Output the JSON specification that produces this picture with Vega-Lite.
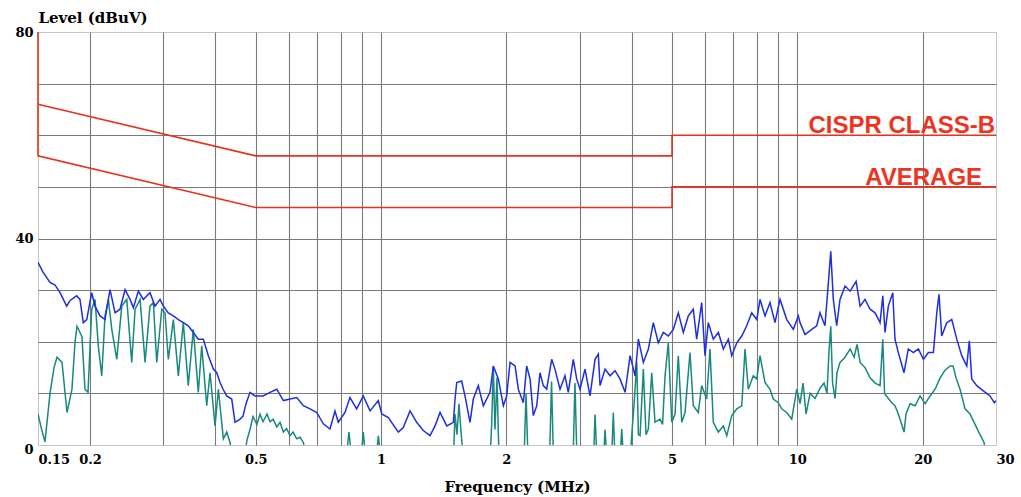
{
"$schema": "https://vega.github.io/schema/vega-lite/v6.json",
"width": 958, "height": 413,
"autosize": {"type": "none"},
"padding": {"left": 38, "top": 32, "right": 25, "bottom": 52},
"background": "white",
"config": {"view": {"stroke": "#c4c4c4", "strokeWidth": 1}, "font": "DejaVu Serif"},
"datasets": {
"peak": [
{"f":0.15,"v":35.4},{"f":0.1542,"v":33.5},{"f":0.1603,"v":31.5},{"f":0.1648,"v":31.0},{"f":0.1694,"v":29.5},{"f":0.1758,"v":26.9},{"f":0.1791,"v":28.0},{"f":0.1858,"v":28.9},{"f":0.1892,"v":28.2},{"f":0.1927,"v":23.7},{"f":0.1964,"v":24.3},{"f":0.2019,"v":29.5},{"f":0.2056,"v":26.9},{"f":0.2114,"v":25.0},{"f":0.2173,"v":24.3},{"f":0.2234,"v":30.1},{"f":0.2297,"v":25.6},{"f":0.2361,"v":26.3},{"f":0.2428,"v":30.1},{"f":0.2496,"v":28.2},{"f":0.2542,"v":26.6},{"f":0.2613,"v":29.8},{"f":0.2686,"v":28.2},{"f":0.2787,"v":29.5},{"f":0.2865,"v":26.9},{"f":0.2946,"v":28.2},{"f":0.3,"v":26.9},{"f":0.3084,"v":25.6},{"f":0.3171,"v":25.0},{"f":0.326,"v":24.3},{"f":0.335,"v":23.7},{"f":0.3444,"v":23.1},{"f":0.3541,"v":21.8},{"f":0.364,"v":20.5},{"f":0.3743,"v":20.5},{"f":0.3848,"v":17.3},{"f":0.3956,"v":14.7},{"f":0.4031,"v":14.0},{"f":0.4105,"v":12.1},{"f":0.4174,"v":10.8},{"f":0.426,"v":9.5},{"f":0.438,"v":8.9},{"f":0.446,"v":4.4},{"f":0.4586,"v":5.0},{"f":0.4662,"v":5.6},{"f":0.4739,"v":8.0},{"f":0.4845,"v":10.2},{"f":0.498,"v":9.5},{"f":0.5206,"v":9.5},{"f":0.5412,"v":10.2},{"f":0.5618,"v":10.8},{"f":0.5827,"v":8.6},{"f":0.6047,"v":8.9},{"f":0.6275,"v":9.2},{"f":0.6507,"v":7.6},{"f":0.6753,"v":7.0},{"f":0.7008,"v":6.3},{"f":0.7268,"v":4.1},{"f":0.754,"v":3.1},{"f":0.7752,"v":6.6},{"f":0.7895,"v":4.4},{"f":0.8193,"v":6.3},{"f":0.8422,"v":9.2},{"f":0.874,"v":7.0},{"f":0.9065,"v":9.5},{"f":0.941,"v":6.6},{"f":0.9852,"v":8.6},{"f":1.0039,"v":6.0},{"f":1.0412,"v":5.3},{"f":1.1004,"v":2.5},{"f":1.131,"v":3.4},{"f":1.174,"v":6.6},{"f":1.218,"v":4.4},{"f":1.263,"v":2.8},{"f":1.3115,"v":1.8},{"f":1.348,"v":3.7},{"f":1.386,"v":6.3},{"f":1.4385,"v":3.7},{"f":1.492,"v":4.4},{"f":1.5056,"v":8.9},{"f":1.52,"v":12.1},{"f":1.562,"v":12.4},{"f":1.591,"v":9.5},{"f":1.636,"v":4.4},{"f":1.666,"v":8.9},{"f":1.7125,"v":11.5},{"f":1.7606,"v":7.6},{"f":1.827,"v":10.2},{"f":1.861,"v":15.3},{"f":1.9135,"v":12.8},{"f":1.967,"v":7.6},{"f":2.004,"v":9.5},{"f":2.041,"v":16.0},{"f":2.099,"v":15.3},{"f":2.137,"v":10.8},{"f":2.197,"v":8.2},{"f":2.238,"v":15.3},{"f":2.28,"v":12.8},{"f":2.3217,"v":5.7},{"f":2.366,"v":7.6},{"f":2.409,"v":14.0},{"f":2.4537,"v":11.5},{"f":2.5,"v":10.8},{"f":2.57,"v":16.6},{"f":2.617,"v":14.7},{"f":2.691,"v":10.8},{"f":2.766,"v":13.4},{"f":2.817,"v":10.2},{"f":2.896,"v":16.6},{"f":2.951,"v":12.8},{"f":3.006,"v":10.8},{"f":3.09,"v":14.7},{"f":3.177,"v":9.5},{"f":3.266,"v":16.6},{"f":3.326,"v":17.6},{"f":3.358,"v":11.5},{"f":3.452,"v":14.7},{"f":3.549,"v":13.4},{"f":3.648,"v":14.4},{"f":3.75,"v":12.8},{"f":3.857,"v":10.2},{"f":3.965,"v":17.3},{"f":4.076,"v":13.4},{"f":4.151,"v":20.5},{"f":4.266,"v":16.0},{"f":4.387,"v":18.6},{"f":4.508,"v":23.7},{"f":4.635,"v":19.8},{"f":4.765,"v":21.8},{"f":4.898,"v":21.1},{"f":5.036,"v":22.4},{"f":5.177,"v":25.6},{"f":5.322,"v":21.8},{"f":5.471,"v":25.0},{"f":5.624,"v":26.3},{"f":5.731,"v":20.5},{"f":5.891,"v":27.6},{"f":6.0,"v":17.3},{"f":6.11,"v":23.7},{"f":6.282,"v":20.5},{"f":6.46,"v":21.8},{"f":6.641,"v":18.6},{"f":6.828,"v":20.5},{"f":6.957,"v":17.3},{"f":7.153,"v":19.8},{"f":7.353,"v":21.1},{"f":7.557,"v":23.1},{"f":7.769,"v":25.6},{"f":7.99,"v":24.3},{"f":8.134,"v":28.2},{"f":8.362,"v":25.0},{"f":8.596,"v":27.6},{"f":8.837,"v":23.7},{"f":9.085,"v":28.2},{"f":9.431,"v":24.3},{"f":9.781,"v":22.4},{"f":10.055,"v":25.0},{"f":10.15,"v":23.7},{"f":10.435,"v":21.4},{"f":10.83,"v":22.4},{"f":11.13,"v":23.1},{"f":11.335,"v":25.6},{"f":11.65,"v":23.1},{"f":11.87,"v":31.4},{"f":12.03,"v":37.5},{"f":12.2,"v":28.2},{"f":12.43,"v":23.1},{"f":12.66,"v":28.2},{"f":13.02,"v":30.8},{"f":13.39,"v":29.8},{"f":13.84,"v":31.7},{"f":14.15,"v":26.9},{"f":14.54,"v":28.2},{"f":14.95,"v":26.3},{"f":15.37,"v":25.6},{"f":15.8,"v":23.7},{"f":16.04,"v":28.9},{"f":16.24,"v":21.8},{"f":16.54,"v":26.9},{"f":16.95,"v":29.5},{"f":17.16,"v":20.5},{"f":17.48,"v":17.9},{"f":18.04,"v":14.0},{"f":18.47,"v":18.6},{"f":19.0,"v":17.9},{"f":19.53,"v":18.6},{"f":20.08,"v":16.6},{"f":20.64,"v":17.9},{"f":21.22,"v":17.9},{"f":21.62,"v":25.6},{"f":21.89,"v":29.2},{"f":22.22,"v":21.1},{"f":22.85,"v":23.7},{"f":23.49,"v":24.3},{"f":24.15,"v":20.5},{"f":24.82,"v":17.3},{"f":25.52,"v":15.3},{"f":25.89,"v":20.2},{"f":26.23,"v":12.8},{"f":26.97,"v":11.5},{"f":27.97,"v":10.5},{"f":29.02,"v":9.5},{"f":29.72,"v":8.2},{"f":30,"v":8.6}
],
"avg": [
{"f":0.15,"v":6.0},{"f":0.1525,"v":3.5},{"f":0.1559,"v":0.6},{"f":0.1603,"v":10.0},{"f":0.1639,"v":15},{"f":0.1666,"v":17.0},{"f":0.1713,"v":16.0},{"f":0.1761,"v":6.3},{"f":0.181,"v":10.8},{"f":0.1841,"v":20},{"f":0.1861,"v":23},{"f":0.1913,"v":21},{"f":0.1945,"v":10.8},{"f":0.1978,"v":10.2},{"f":0.2019,"v":26.3},{"f":0.2056,"v":28.2},{"f":0.2094,"v":19.2},{"f":0.2134,"v":13.4},{"f":0.2173,"v":25.0},{"f":0.2213,"v":28.2},{"f":0.2256,"v":22.4},{"f":0.2319,"v":16.6},{"f":0.2384,"v":26.9},{"f":0.2451,"v":28.2},{"f":0.2519,"v":16.0},{"f":0.2566,"v":26.3},{"f":0.2638,"v":28.2},{"f":0.2712,"v":16.0},{"f":0.2787,"v":26.9},{"f":0.2839,"v":27.6},{"f":0.2893,"v":16.0},{"f":0.2974,"v":26.3},{"f":0.3028,"v":25.6},{"f":0.3084,"v":16.6},{"f":0.3171,"v":24.3},{"f":0.326,"v":13.4},{"f":0.335,"v":23.7},{"f":0.3444,"v":11.5},{"f":0.3541,"v":22.4},{"f":0.364,"v":10.2},{"f":0.371,"v":19.2},{"f":0.3814,"v":7.6},{"f":0.3884,"v":14.0},{"f":0.3993,"v":3.7},{"f":0.4067,"v":10.8},{"f":0.4181,"v":1.2},{"f":0.426,"v":2.5},{"f":0.4339,"v":0.5},{"f":0.4411,"v":-3},{"f":0.4688,"v":-3},{"f":0.4765,"v":1.0},{"f":0.4845,"v":3.0},{"f":0.4926,"v":5.5},{"f":0.5036,"v":4.0},{"f":0.5121,"v":6.0},{"f":0.5206,"v":4.5},{"f":0.5323,"v":6.0},{"f":0.5412,"v":4.5},{"f":0.5504,"v":5.0},{"f":0.5618,"v":3.5},{"f":0.5721,"v":4.4},{"f":0.5827,"v":2.5},{"f":0.5934,"v":3.2},{"f":0.6047,"v":1.8},{"f":0.6148,"v":2.5},{"f":0.6275,"v":1.2},{"f":0.6391,"v":1.5},{"f":0.6507,"v":0.5},{"f":0.6642,"v":-3},{"f":0.8238,"v":-3},{"f":0.8376,"v":2.5},{"f":0.8516,"v":-3},{"f":0.895,"v":-3},{"f":0.9065,"v":2.5},{"f":0.9201,"v":-3},{"f":0.9727,"v":-3},{"f":0.9852,"v":1.8},{"f":1.0,"v":-3},{"f":1.492,"v":-3},{"f":1.5056,"v":6},{"f":1.522,"v":2},{"f":1.539,"v":8},{"f":1.562,"v":1},{"f":1.582,"v":-3},{"f":1.827,"v":-3},{"f":1.844,"v":4},{"f":1.861,"v":15.3},{"f":1.878,"v":3},{"f":1.899,"v":13},{"f":1.921,"v":-3},{"f":2.205,"v":-3},{"f":2.23,"v":10},{"f":2.255,"v":-3},{"f":2.539,"v":-3},{"f":2.568,"v":12.3},{"f":2.596,"v":-3},{"f":2.892,"v":-3},{"f":2.923,"v":12},{"f":2.956,"v":-3},{"f":3.239,"v":-3},{"f":3.266,"v":5.9},{"f":3.302,"v":-3},{"f":3.423,"v":-3},{"f":3.452,"v":3.0},{"f":3.49,"v":-3},{"f":3.578,"v":-3},{"f":3.614,"v":6.3},{"f":3.648,"v":-3},{"f":3.75,"v":-3},{"f":3.786,"v":3.1},{"f":3.825,"v":-3},{"f":3.965,"v":-3},{"f":4.0,"v":1.8},{"f":4.054,"v":8},{"f":4.114,"v":16.0},{"f":4.151,"v":2},{"f":4.19,"v":1.8},{"f":4.266,"v":14.7},{"f":4.33,"v":2},{"f":4.387,"v":3.1},{"f":4.469,"v":14.0},{"f":4.551,"v":4.4},{"f":4.68,"v":5.0},{"f":4.745,"v":4},{"f":4.811,"v":13.4},{"f":4.898,"v":19.8},{"f":4.992,"v":4.4},{"f":5.084,"v":6},{"f":5.177,"v":17.3},{"f":5.276,"v":4.4},{"f":5.373,"v":6.3},{"f":5.522,"v":17.9},{"f":5.624,"v":7.6},{"f":5.782,"v":6.3},{"f":5.891,"v":11.5},{"f":6.056,"v":8.9},{"f":6.168,"v":18.6},{"f":6.282,"v":4.4},{"f":6.46,"v":2.5},{"f":6.641,"v":3.7},{"f":6.768,"v":1.8},{"f":6.957,"v":5.7},{"f":7.153,"v":7.0},{"f":7.353,"v":7.6},{"f":7.486,"v":18.6},{"f":7.624,"v":10.8},{"f":7.838,"v":13.4},{"f":7.99,"v":12.8},{"f":8.134,"v":17.3},{"f":8.362,"v":12.1},{"f":8.596,"v":10.8},{"f":8.755,"v":8.9},{"f":9.0,"v":8.2},{"f":9.171,"v":7.0},{"f":9.431,"v":6.3},{"f":9.695,"v":5.0},{"f":9.967,"v":10.8},{"f":10.15,"v":8},{"f":10.32,"v":12},{"f":10.49,"v":6},{"f":10.73,"v":10},{"f":11.03,"v":9},{"f":11.335,"v":11},{"f":11.59,"v":12},{"f":11.78,"v":10},{"f":11.91,"v":18},{"f":12.03,"v":23},{"f":12.15,"v":12},{"f":12.32,"v":9},{"f":12.45,"v":14},{"f":12.66,"v":16},{"f":13.02,"v":17},{"f":13.39,"v":18.6},{"f":13.69,"v":17},{"f":13.91,"v":19.5},{"f":14.15,"v":16},{"f":14.54,"v":15},{"f":14.95,"v":13},{"f":15.37,"v":12},{"f":15.8,"v":11.5},{"f":16.04,"v":20.5},{"f":16.2,"v":10},{"f":16.54,"v":9},{"f":16.95,"v":8},{"f":17.16,"v":7.6},{"f":17.48,"v":6},{"f":17.74,"v":4.4},{"f":18.04,"v":2.5},{"f":18.24,"v":6},{"f":18.65,"v":8},{"f":19.18,"v":7.6},{"f":19.71,"v":9.5},{"f":20.27,"v":8},{"f":20.84,"v":9.5},{"f":21.42,"v":10.8},{"f":22.02,"v":13},{"f":22.63,"v":14.5},{"f":23.27,"v":15.3},{"f":23.66,"v":15.3},{"f":24.05,"v":13},{"f":24.59,"v":10.8},{"f":25.28,"v":7},{"f":25.98,"v":6},{"f":26.72,"v":4},{"f":27.46,"v":2},{"f":28.08,"v":0.5},{"f":28.5,"v":-3}
],
"limits": [
{"s":"qp","i":0,"f":0.15,"v":66},{"s":"qp","i":1,"f":0.5,"v":56},{"s":"qp","i":2,"f":5,"v":56},{"s":"qp","i":3,"f":5,"v":60},{"s":"qp","i":4,"f":30,"v":60},
{"s":"av","i":0,"f":0.15,"v":80},{"s":"av","i":1,"f":0.15,"v":56},{"s":"av","i":2,"f":0.5,"v":46},{"s":"av","i":3,"f":5,"v":46},{"s":"av","i":4,"f":5,"v":50},{"s":"av","i":5,"f":30,"v":50}
],
"labels": [
{"f":29.85,"v":60.4,"t":"CISPR CLASS-B"},
{"f":27.78,"v":50.4,"t":"AVERAGE"}
]
},
"encoding": {
"x": {"field": "f", "type": "quantitative",
 "scale": {"type": "log", "domain": [0.15, 30], "nice": false},
 "axis": {
  "values": [0.15,0.2,0.3,0.4,0.5,0.6,0.7,0.8,0.9,1,2,3,4,5,6,7,8,9,10,20,30],
  "format": "~g",
  "labelExpr": "indexof([0.15,0.2,0.5,1,2,5,10,20,30], datum.value) >= 0 ? datum.label : ''",
  "labelAlign": {"condition": {"test": "datum.value == 0.15 || datum.value == 30", "value": "left"}, "value": "center"},
  "labelOverlap": false, "labelFont": "DejaVu Serif", "labelFontWeight": "bold", "labelFontSize": 13, "labelColor": "#000", "labelPadding": 8,
  "ticks": false, "domain": false,
  "grid": true, "gridColor": {"condition": {"test": "datum.value == 0.15 || datum.value == 30", "value": "transparent"}, "value": "#7a7a7a"}, "gridWidth": 1.1,
  "title": "Frequency (MHz)", "titleFont": "DejaVu Serif", "titleFontWeight": "bold", "titleFontSize": 15, "titleColor": "#000", "titleY": 46, "titleBaseline": "alphabetic"
 }},
"y": {"field": "v", "type": "quantitative",
 "scale": {"domain": [0, 80], "nice": false},
 "axis": {
  "values": [0,10,20,30,40,50,60,70,80],
  "labelExpr": "datum.value % 40 == 0 ? datum.label : ''",
  "labelOffset": {"condition": {"test": "datum.value == 0", "value": 4}, "value": 0},
  "ticks": false, "domain": false,
  "grid": true, "gridColor": {"condition": {"test": "datum.value == 0 || datum.value == 80", "value": "transparent"}, "value": "#7a7a7a"}, "gridWidth": 1.1,
  "labelFont": "DejaVu Serif", "labelFontWeight": "bold", "labelFontSize": 13, "labelColor": "#000", "labelPadding": 5,
  "title": "Level (dBuV)", "titleAngle": 0, "titleAlign": "left", "titleX": 0, "titleY": -10, "titleBaseline": "alphabetic",
  "titleFont": "DejaVu Serif", "titleFontWeight": "bold", "titleFontSize": 15, "titleColor": "#000"
 }}
},
"layer": [
 {"data": {"name": "avg"}, "mark": {"type": "line", "color": "#17897e", "strokeWidth": 1.5, "clip": true}},
 {"data": {"name": "peak"}, "mark": {"type": "line", "color": "#1f2ee0", "strokeWidth": 1.5, "clip": true}},
 {"data": {"name": "limits"}, "mark": {"type": "line", "color": "#e8321e", "strokeWidth": 1.6}, "encoding": {"detail": {"field": "s"}, "order": {"field": "i"}}},
 {"data": {"name": "labels"}, "mark": {"type": "text", "align": "right", "baseline": "alphabetic", "font": "Liberation Sans", "fontWeight": "bold", "fontSize": 24, "color": "#ee3322"}, "encoding": {"text": {"field": "t"}}}
]
}
